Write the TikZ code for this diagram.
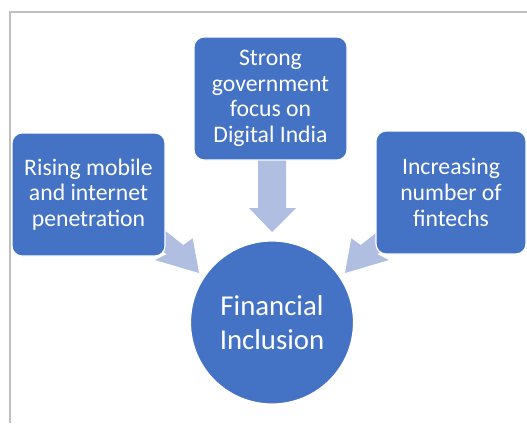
\documentclass[tikz,border=0pt]{standalone}
\usepackage{fontspec}
\setmainfont{Carlito}
\definecolor{boxblue}{HTML}{4472C4}
\definecolor{arrowblue}{HTML}{B0BFE1}
\definecolor{framegray}{HTML}{BFBFBF}
\begin{document}
\begin{tikzpicture}[x=1pt,y=-1pt,
  box/.style={draw=white, line width=1.2pt, fill=boxblue, rounded corners=10pt,
    minimum width=153pt, minimum height=123pt, inner sep=0pt, text=white,
    align=center, font=\fontsize{23.7}{25.6}\selectfont},
  hub/.style={circle, draw=white, line width=1.2pt, fill=boxblue,
    minimum size=163pt, inner sep=0pt, text=white, align=center,
    font=\fontsize{28.8}{34}\selectfont},
  blockarrow/.style={fill=arrowblue, draw=none},
  frameline/.style={draw=framegray, line width=2pt}]
\useasboundingbox (0,0) rectangle (527,423);
\fill[white] (0,0) rectangle (527,423);
\draw[frameline] (10,423) -- (10,12) -- (527,12);
% block arrows (behind the boxes)
\fill[blockarrow] (199,273) -- (155,260) -- (166.7,254.3) -- (142.7,235.6)
  -- (159.3,226.3) -- (183.3,245) -- (192.7,238.3) -- cycle;
\fill[blockarrow] (345,273) -- (389,260) -- (377.3,254.3) -- (401.3,235.6)
  -- (384.7,226.3) -- (360.7,245) -- (351.3,238.3) -- cycle;
\fill[blockarrow] (258,150) -- (258,208) -- (249,208) -- (272,232)
  -- (296,208) -- (286,208) -- (286,150) -- cycle;
% boxes
\node[box] (top) at (270.5,98.5) {Strong\\government\\focus on\\Digital India};
\node[box] (left) at (88.5,194.5) {Rising mobile\\and internet\\penetration};
\node[box, minimum width=150pt] (right) at (451,192.5) {Increasing\\number of\\fintechs};
\node[hub] (fi) at (272,322.5) {Financial\\Inclusion};
\end{tikzpicture}
\end{document}
